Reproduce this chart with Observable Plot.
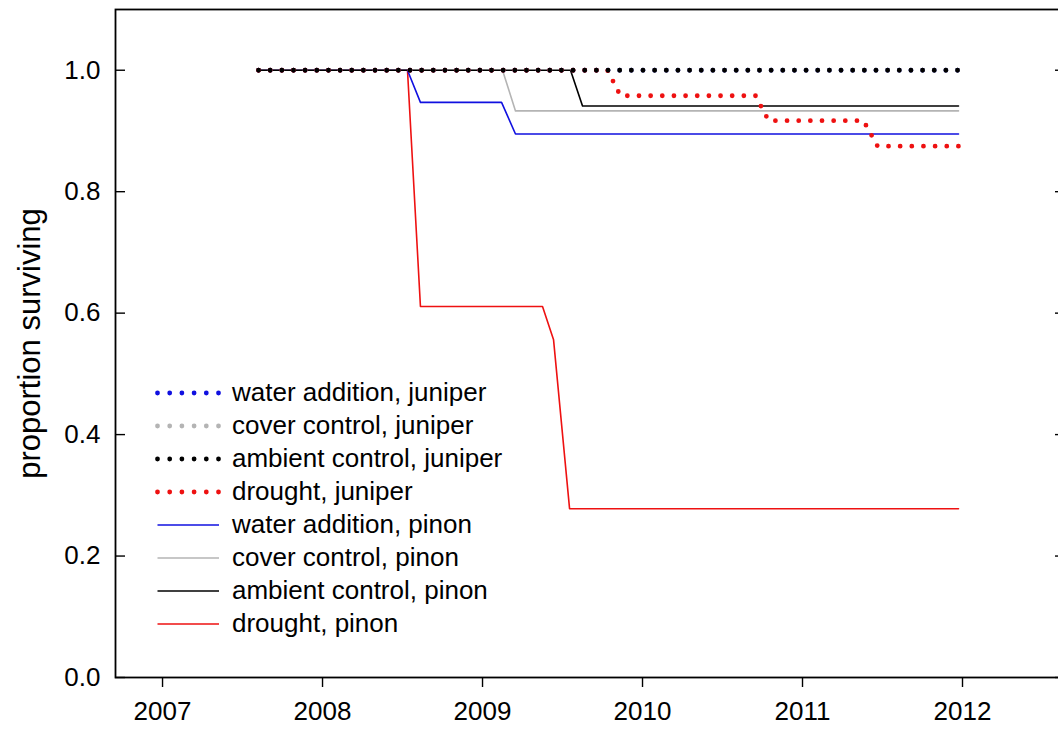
<!DOCTYPE html>
<html>
<head>
<meta charset="utf-8">
<script src="https://cdn.jsdelivr.net/npm/d3@7"></script>
<script src="https://cdn.jsdelivr.net/npm/@observablehq/plot@0.6"></script>
<style>
  html, body { margin: 0; padding: 0; overflow: hidden; background: #fff; }
  #wrap { position: relative; width: 1058px; height: 729px; overflow: hidden; font-family: "Liberation Sans", Arial, sans-serif; }
  #wrap > svg { max-width: none !important; display: block; }
  #legend { position: absolute; left: 155px; top: 376px; }
  .row { display: flex; align-items: center; height: 33px; }
  .row svg { margin-right: 11px; }
  .row span { font-size: 26px; line-height: 33px; color: #000; }
</style>
</head>
<body>
<div id="wrap"><div id="legend"></div></div>
<script>
// ---- data (decimal years, proportion surviving) ----
const seriesNames = [
  "water addition, juniper",
  "cover control, juniper",
  "ambient control, juniper",
  "drought, juniper",
  "water addition, pinon",
  "cover control, pinon",
  "ambient control, pinon",
  "drought, pinon"
];
const waterJuniperX = [2007.6, 2011.975];
const waterJuniperY = [1, 1];
const coverJuniperX = [2007.6, 2011.975];
const coverJuniperY = [1, 1];
const ambientJuniperX = [2007.6, 2011.975];
const ambientJuniperY = [1, 1];
const droughtJuniperX = [2007.6, 2009.781, 2009.862, 2010.706, 2010.788, 2011.381, 2011.469, 2011.975];
const droughtJuniperY = [1, 1, 0.958, 0.958, 0.917, 0.917, 0.875, 0.875];
const waterPinonX = [2007.6, 2008.531, 2008.612, 2009.119, 2009.206, 2011.975];
const waterPinonY = [1, 1, 0.947, 0.947, 0.895, 0.895];
const coverPinonX = [2007.6, 2009.125, 2009.206, 2011.975];
const coverPinonY = [1, 1, 0.933, 0.933];
const ambientPinonX = [2007.6, 2009.55, 2009.625, 2011.975];
const ambientPinonY = [1, 1, 0.941, 0.941];
const droughtPinonX = [2007.6, 2008.531, 2008.612, 2009.375, 2009.444, 2009.544, 2011.975];
const droughtPinonY = [1, 1, 0.611, 0.611, 0.556, 0.278, 0.278];
const xTicks = [2007, 2008, 2009, 2010, 2011, 2012];
const yTicks = [0, 0.2, 0.4, 0.6, 0.8, 1.0];
const yLabel = ["proportion surviving"];

// ---- styles ----
const colors = ["#1010e0", "#b4b4b4", "#000000", "#ee1111", "#1010e0", "#b4b4b4", "#000000", "#ee1111"];
const dotted = [true, true, true, true, false, false, false, false];
const xs = [waterJuniperX, coverJuniperX, ambientJuniperX, droughtJuniperX, waterPinonX, coverPinonX, ambientPinonX, droughtPinonX];
const ys = [waterJuniperY, coverJuniperY, ambientJuniperY, droughtJuniperY, waterPinonY, coverPinonY, ambientPinonY, droughtPinonY];
const drawOrder = [7, 4, 5, 6, 0, 1, 3, 2];

const dotStyle = {strokeWidth: 4.8, strokeDasharray: "0 11.65", strokeLinecap: "round"};
const solidStyle = {strokeWidth: 1.6};

const lineMarks = drawOrder.map(i => {
  const rows = xs[i].map((x, j) => ({x, y: ys[i][j]}));
  return Plot.line(rows, {x: "x", y: "y", stroke: colors[i], ...(dotted[i] ? dotStyle : solidStyle)});
});

const chart = Plot.plot({
  width: 1066,
  height: 729,
  marginLeft: 115,
  marginRight: 2,
  marginTop: 9,
  marginBottom: 52,
  style: {fontFamily: "Liberation Sans, Arial, sans-serif", color: "#000", background: "#fff", maxWidth: "none"},
  x: {domain: [2006.706, 2012.6375]},
  y: {domain: [0, 1.1]},
  marks: [
    ...lineMarks,
    Plot.frame({stroke: "#000", strokeWidth: 1.8}),
    Plot.axisX({anchor: "bottom", ticks: xTicks, tickFormat: d => String(d), tickSize: 10, tickPadding: 14, fontSize: 26, label: null, strokeWidth: 1.4}),
    Plot.axisY({anchor: "left", ticks: yTicks, tickFormat: d => d.toFixed(1), tickSize: -10, tickPadding: 25, fontSize: 26, label: null, strokeWidth: 1.4}),
    Plot.axisY({anchor: "right", ticks: yTicks, tickSize: -10, text: null, label: null, strokeWidth: 1.4}),
    Plot.text(yLabel, {text: d => d, frameAnchor: "left", textAnchor: "middle", dx: -85, rotate: -90, fontSize: 31})
  ]
});
const wrap = document.getElementById("wrap");
wrap.insertBefore(chart, wrap.firstChild);

// ---- legend ----
const legend = document.getElementById("legend");
seriesNames.forEach((name, i) => {
  const row = document.createElement("div");
  row.className = "row";
  const svgNS = "http://www.w3.org/2000/svg";
  const svg = document.createElementNS(svgNS, "svg");
  svg.setAttribute("width", 66);
  svg.setAttribute("height", 12);
  const ln = document.createElementNS(svgNS, "line");
  ln.setAttribute("x1", 2.5); ln.setAttribute("x2", 64); ln.setAttribute("y1", 6); ln.setAttribute("y2", 6);
  ln.setAttribute("stroke", colors[i]);
  if (dotted[i]) {
    ln.setAttribute("stroke-width", 4.8);
    ln.setAttribute("stroke-dasharray", "0 12.2");
    ln.setAttribute("stroke-linecap", "round");
  } else {
    ln.setAttribute("stroke-width", 1.6);
  }
  svg.appendChild(ln);
  const span = document.createElement("span");
  span.textContent = name;
  row.appendChild(svg);
  row.appendChild(span);
  legend.appendChild(row);
});
</script>
</body>
</html>
